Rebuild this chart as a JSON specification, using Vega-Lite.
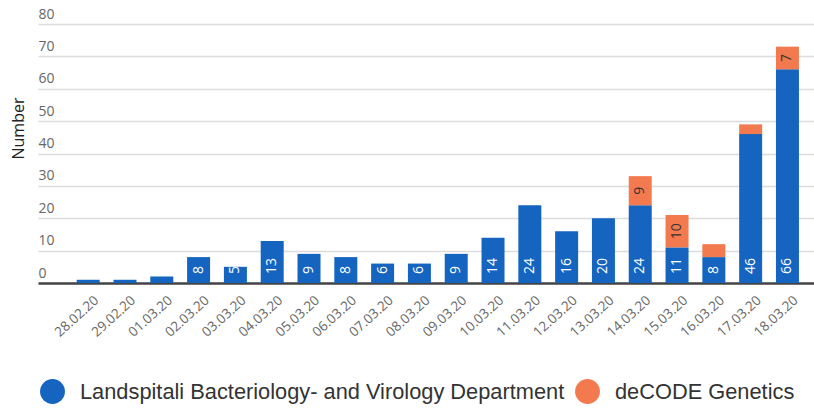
{
  "$schema": "https://vega.github.io/schema/vega-lite/v6.json",
  "width": 776,
  "height": 259,
  "autosize": {"type": "none"},
  "padding": {"left": 38, "top": 24, "right": 0, "bottom": 125},
  "background": "white",
  "config": {
    "view": {"stroke": null},
    "font": "Open Sans",
    "axisY": {
      "tickCount": 8,
      "labelOverlap": false,
      "domain": false,
      "ticks": false,
      "tickSize": 0,
      "labelAlign": "left",
      "labelBaseline": "alphabetic",
      "labelPadding": 0,
      "labelOffset": -6,
      "labelFont": "Open Sans",
      "labelFontSize": 14,
      "labelColor": "#666666",
      "grid": true,
      "gridColor": "#dcdcdc",
      "gridWidth": 1.5,
      "titleFont": "Open Sans",
      "titleFontSize": 16,
      "titleFontWeight": "normal",
      "titleColor": "#222222",
      "titleX": -20,
      "titleY": 104,
      "titleAlign": "center",
      "titleBaseline": "middle"
    }
  },
  "data": {
    "values": [
      {"date": "28.02.20", "source": "Landspitali Bacteriology- and Virology Department", "value": 1},
      {"date": "29.02.20", "source": "Landspitali Bacteriology- and Virology Department", "value": 1},
      {"date": "01.03.20", "source": "Landspitali Bacteriology- and Virology Department", "value": 2},
      {"date": "02.03.20", "source": "Landspitali Bacteriology- and Virology Department", "value": 8},
      {"date": "03.03.20", "source": "Landspitali Bacteriology- and Virology Department", "value": 5},
      {"date": "04.03.20", "source": "Landspitali Bacteriology- and Virology Department", "value": 13},
      {"date": "05.03.20", "source": "Landspitali Bacteriology- and Virology Department", "value": 9},
      {"date": "06.03.20", "source": "Landspitali Bacteriology- and Virology Department", "value": 8},
      {"date": "07.03.20", "source": "Landspitali Bacteriology- and Virology Department", "value": 6},
      {"date": "08.03.20", "source": "Landspitali Bacteriology- and Virology Department", "value": 6},
      {"date": "09.03.20", "source": "Landspitali Bacteriology- and Virology Department", "value": 9},
      {"date": "10.03.20", "source": "Landspitali Bacteriology- and Virology Department", "value": 14},
      {"date": "11.03.20", "source": "Landspitali Bacteriology- and Virology Department", "value": 24},
      {"date": "12.03.20", "source": "Landspitali Bacteriology- and Virology Department", "value": 16},
      {"date": "13.03.20", "source": "Landspitali Bacteriology- and Virology Department", "value": 20},
      {"date": "14.03.20", "source": "Landspitali Bacteriology- and Virology Department", "value": 24},
      {"date": "15.03.20", "source": "Landspitali Bacteriology- and Virology Department", "value": 11},
      {"date": "16.03.20", "source": "Landspitali Bacteriology- and Virology Department", "value": 8},
      {"date": "17.03.20", "source": "Landspitali Bacteriology- and Virology Department", "value": 46},
      {"date": "18.03.20", "source": "Landspitali Bacteriology- and Virology Department", "value": 66},
      {"date": "14.03.20", "source": "deCODE Genetics", "value": 9},
      {"date": "15.03.20", "source": "deCODE Genetics", "value": 10},
      {"date": "16.03.20", "source": "deCODE Genetics", "value": 4},
      {"date": "17.03.20", "source": "deCODE Genetics", "value": 3},
      {"date": "18.03.20", "source": "deCODE Genetics", "value": 7}
    ]
  },
  "encoding": {
    "x": {
      "field": "date",
      "type": "ordinal",
      "sort": null,
      "scale": {"paddingInner": 0.375, "paddingOuter": 0.73, "align": 0.72},
      "axis": {
        "title": null,
        "labelAngle": -42,
        "labelAlign": "right",
        "labelBaseline": "top",
        "labelFont": "Open Sans",
        "labelFontSize": 13.5,
        "labelColor": "#666666",
        "labelPadding": 10,
        "labelOffset": 4,
        "labelOverlap": false,
        "ticks": false,
        "domainColor": "#444444",
        "domainWidth": 2.5
      }
    }
  },
  "layer": [
    {
      "mark": {"type": "bar"},
      "encoding": {
        "y": {
          "field": "value",
          "type": "quantitative",
          "stack": "zero",
          "scale": {"domain": [0, 80], "nice": false},
          "title": "Number"
        },
        "color": {
          "field": "source",
          "type": "nominal",
          "scale": {
            "domain": ["Landspitali Bacteriology- and Virology Department", "deCODE Genetics"],
            "range": ["#1565C0", "#F37A4E"]
          },
          "legend": {
            "title": null,
            "orient": "none",
            "direction": "horizontal",
            "legendX": 2,
            "legendY": 355,
            "symbolType": "circle",
            "symbolSize": 620,
            "symbolStrokeWidth": 0,
            "labelFont": "Liberation Sans",
            "labelFontSize": 21.8,
            "labelColor": "#333333",
            "labelLimit": 0,
            "labelOffset": 15,
            "columnPadding": 10
          }
        },
        "order": {"field": "source", "sort": "ascending"}
      }
    },
    {
      "transform": [{"filter": "datum.source == 'Landspitali Bacteriology- and Virology Department' && datum.value >= 5"}],
      "mark": {"type": "text", "angle": 270, "align": "left", "baseline": "middle", "dx": 9, "color": "white", "fontSize": 14, "font": "Open Sans"},
      "encoding": {
        "y": {"datum": 0, "type": "quantitative", "title": "Number"},
        "text": {"field": "value", "type": "quantitative"}
      }
    },
    {
      "mark": {"type": "text", "angle": 270, "align": "center", "baseline": "middle", "color": "#333333", "fontSize": 14, "font": "Open Sans"},
      "encoding": {
        "y": {"field": "value", "type": "quantitative", "stack": "zero", "bandPosition": 0.5, "title": "Number"},
        "detail": {"field": "source"},
        "order": {"field": "source", "sort": "ascending"},
        "text": {
          "condition": {"test": "datum.source == 'deCODE Genetics' && datum.value >= 7", "field": "value", "type": "quantitative"},
          "value": ""
        }
      }
    }
  ]
}
